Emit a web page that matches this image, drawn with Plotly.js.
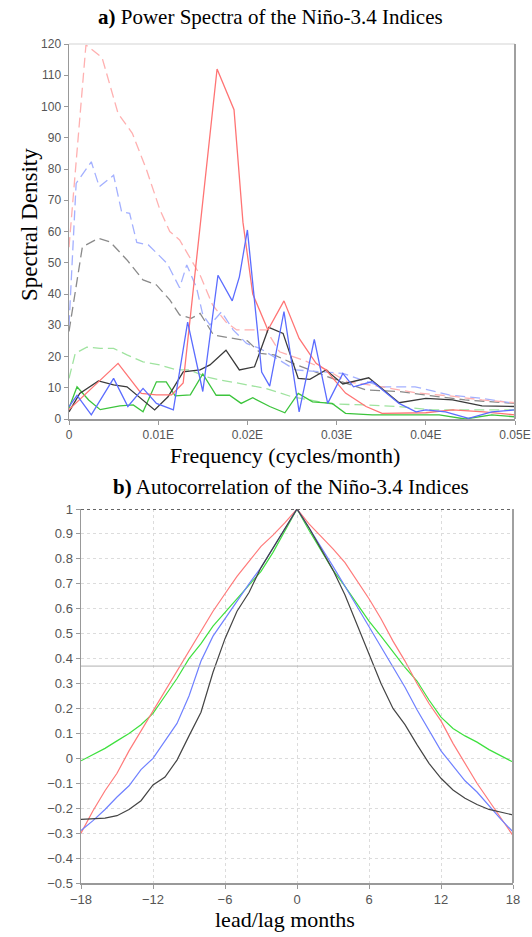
<!DOCTYPE html>
<html>
<head>
<meta charset="utf-8">
<script src="https://cdn.plot.ly/plotly-3.0.1.min.js"></script>
<style>html,body{margin:0;padding:0;background:#fff;}#chart{width:532px;height:937px;}</style>
</head>
<body>
<div id="chart"></div>
<script>
// ---------- Panel a: power spectra (frequency in cycles/month) ----------
const redF  = [0, 0.0055, 0.0081, 0.0098, 0.0115, 0.0128, 0.0166, 0.0185, 0.0195, 0.0206, 0.0223, 0.0241, 0.0258, 0.0277, 0.0288, 0.031, 0.0333, 0.0351, 0.04, 0.043, 0.0465, 0.05];
const redP  = [3, 17.8, 8.2, 7.7, 7.7, 11.5, 112, 99, 63, 40, 28.5, 37.8, 25.8, 17.8, 15.7, 8.3, 4, 1.8, 2, 2.9, 2.3, 1.3];

const blueF = [0, 0.0009, 0.0025, 0.005, 0.0066, 0.0083, 0.0098, 0.0117, 0.0133, 0.015, 0.0167, 0.0183, 0.0191, 0.02, 0.0216, 0.0225, 0.0241, 0.0258, 0.0275, 0.029, 0.0307, 0.0319, 0.034, 0.037, 0.0389, 0.04, 0.0422, 0.0448, 0.0474, 0.05];
const blueP = [4, 7.6, 1.3, 13, 4, 9.8, 5, 2.9, 31, 8.8, 46, 37.8, 45.5, 60.5, 15, 10.5, 34.4, 2.3, 25.5, 5, 14.6, 10.3, 12, 5, 2.3, 2.9, 2.3, 0.2, 2.3, 2.9];

const blackF = [0, 0.0012, 0.0033, 0.005, 0.0065, 0.008, 0.0096, 0.0111, 0.0128, 0.0147, 0.0158, 0.0176, 0.0191, 0.0208, 0.0224, 0.024, 0.0257, 0.027, 0.0288, 0.0307, 0.0336, 0.037, 0.04, 0.043, 0.0463, 0.05];
const blackP = [2.3, 8.2, 12.2, 10.9, 10.3, 6.6, 2.9, 7.1, 15.1, 15.7, 17.3, 22, 15.7, 16.7, 29.3, 27.4, 13, 12.7, 15.7, 11.2, 13.2, 5.2, 6.6, 6.1, 4.2, 4];

const greenF = [0, 0.0009, 0.0022, 0.0035, 0.0057, 0.0072, 0.0083, 0.0098, 0.0109, 0.0119, 0.0136, 0.015, 0.0165, 0.018, 0.0193, 0.0206, 0.0225, 0.0242, 0.0257, 0.0273, 0.0295, 0.031, 0.034, 0.038, 0.0415, 0.0444, 0.0474, 0.05];
const greenP = [3.5, 10.3, 6.1, 3, 4.2, 4.5, 2.3, 11.9, 11.9, 7.4, 7.7, 14.4, 7.6, 7.6, 5, 6.8, 4, 2, 8.2, 5.5, 5, 1.8, 1.3, 1.3, 1.3, 0, 1.3, 0.7];

const redNF = [0, 0.0019, 0.0037, 0.0055, 0.0071, 0.0087, 0.0102, 0.0113, 0.0124, 0.0137, 0.0147, 0.0161, 0.0176, 0.0188, 0.0221, 0.0236, 0.0262, 0.0289, 0.0312, 0.0351, 0.0388, 0.0426, 0.0463, 0.05];
const redNP = [55, 119.7, 115.7, 97.8, 91.4, 79.7, 66.9, 60, 57.3, 51, 46, 36.5, 31, 28.5, 28.5, 21.5, 18.9, 15.7, 11.9, 10.3, 8.4, 7.4, 6.1, 5.2];

const blueNF = [0, 0.0008, 0.0025, 0.0034, 0.005, 0.0059, 0.0068, 0.0076, 0.0089, 0.011, 0.0124, 0.0132, 0.0143, 0.015, 0.0158, 0.0171, 0.0184, 0.0199, 0.0214, 0.0235, 0.0254, 0.0307, 0.0351, 0.0388, 0.0426, 0.0463, 0.05];
const blueNP = [30, 75.4, 82.3, 74.3, 78, 66.3, 65.8, 56.5, 55.7, 49.8, 42, 49.3, 42, 33.3, 30.1, 34.3, 28.5, 24.2, 22.6, 18.9, 15.7, 14.6, 10.3, 10.3, 7.7, 6.6, 5];

const blackNF = [0, 0.0015, 0.0033, 0.0046, 0.0065, 0.0083, 0.0098, 0.0113, 0.0124, 0.0137, 0.0147, 0.0162, 0.0184, 0.02, 0.0215, 0.023, 0.0251, 0.0295, 0.0333, 0.037, 0.0407, 0.0444, 0.05];
const blackNP = [28, 55.1, 57.8, 56.7, 50.9, 44.5, 42.9, 38.1, 33.3, 32.2, 33.8, 26.9, 25.8, 25, 21, 20.5, 17.8, 13, 9.3, 8.8, 7.4, 6.1, 5];

const greenNF = [0, 0.0007, 0.002, 0.0035, 0.005, 0.0065, 0.0083, 0.0102, 0.0121, 0.0135, 0.0154, 0.0169, 0.0191, 0.022, 0.025, 0.0295, 0.0333, 0.037, 0.0407, 0.0444, 0.05];
const greenNP = [13, 21, 23, 22.6, 22.6, 20.5, 18.3, 17.3, 15.7, 15.7, 13.5, 12.5, 11.4, 9.8, 7.1, 4.8, 4.5, 4, 2.9, 2.9, 2.9];

const freqTicks = [0, 0.01, 0.02, 0.03, 0.04, 0.05];
const freqTickText = ["0", "0.01E", "0.02E", "0.03E", "0.04E", "0.05E"];
const densTicks = [0, 10, 20, 30, 40, 50, 60, 70, 80, 90, 100, 110, 120];

// ---------- Panel b: autocorrelation ----------
const lags = [-18,-17,-16,-15,-14,-13,-12,-11,-10,-9,-8,-7,-6,-5,-4,-3,-2,-1,0,1,2,3,4,5,6,7,8,9,10,11,12,13,14,15,16,17,18];
const acRed   = [-0.30,-0.21,-0.13,-0.06,0.03,0.11,0.19,0.27,0.35,0.43,0.51,0.59,0.66,0.73,0.79,0.85,0.895,0.945,1,0.94,0.89,0.84,0.785,0.715,0.64,0.56,0.47,0.39,0.30,0.22,0.15,0.06,-0.02,-0.10,-0.17,-0.24,-0.31];
const acGreen = [-0.01,0.015,0.04,0.07,0.10,0.135,0.18,0.25,0.32,0.40,0.46,0.53,0.585,0.64,0.695,0.75,0.826,0.913,1,0.915,0.835,0.755,0.69,0.62,0.55,0.49,0.425,0.365,0.31,0.234,0.165,0.12,0.09,0.065,0.035,0.01,-0.015];
const acBlue  = [-0.29,-0.25,-0.205,-0.155,-0.11,-0.045,0.0,0.07,0.14,0.25,0.39,0.49,0.56,0.635,0.70,0.765,0.845,0.92,1,0.925,0.85,0.77,0.69,0.61,0.525,0.45,0.37,0.285,0.195,0.11,0.03,-0.03,-0.09,-0.135,-0.19,-0.245,-0.295];
const acBlack = [-0.245,-0.243,-0.24,-0.23,-0.205,-0.17,-0.107,-0.075,-0.007,0.09,0.185,0.345,0.48,0.59,0.665,0.765,0.845,0.92,1,0.925,0.84,0.755,0.655,0.535,0.42,0.30,0.20,0.135,0.055,-0.02,-0.08,-0.127,-0.16,-0.185,-0.205,-0.217,-0.227];
const lagTicks = [-18, -12, -6, 0, 6, 12, 18];
const acTicks = [-0.5,-0.4,-0.3,-0.2,-0.1,0,0.1,0.2,0.3,0.4,0.5,0.6,0.7,0.8,0.9,1];
const efold = 0.37;

const W = 532, H = 937;
const px = v => v / W, py = v => 1 - v / H;

function ln(x, y, color, dash, xa, ya, w) {
  return {x: x, y: y, type: 'scatter', mode: 'lines', xaxis: xa, yaxis: ya,
          line: {color: color, width: w || 1.3, dash: dash || 'solid'}, hoverinfo: 'skip', showlegend: false};
}
const DASH = '10px,5px';
const traces = [
  ln(greenNF, greenNP, '#9fe39f', DASH, 'x', 'y'),
  ln(blackNF, blackNP, '#8a8a8a', DASH, 'x', 'y'),
  ln(blueNF, blueNP, '#a3b0ff', DASH, 'x', 'y'),
  ln(redNF, redNP, '#ffb0b0', DASH, 'x', 'y'),
  ln(greenF, greenP, '#3cc43c', null, 'x', 'y'),
  ln(blackF, blackP, '#3a3a3a', null, 'x', 'y'),
  ln(redF, redP, '#ff7474', null, 'x', 'y'),
  ln(blueF, blueP, '#5b6cff', null, 'x', 'y'),
  ln(lags, acGreen, '#3ee03e', null, 'x2', 'y2', 1.2),
  ln(lags, acRed, '#ff7a7a', null, 'x2', 'y2', 1.2),
  ln(lags, acBlue, '#6f80ff', null, 'x2', 'y2', 1.2),
  ln(lags, acBlack, '#444', null, 'x2', 'y2', 1.2)
];

const tickFont = {family: 'Liberation Sans, Arial, sans-serif', size: 12, color: '#555'};
const serif = 'Liberation Serif, Times New Roman, serif';

const layout = {
  width: W, height: H,
  margin: {l: 0, r: 0, t: 0, b: 0},
  paper_bgcolor: '#fff', plot_bgcolor: '#fff',
  showlegend: false,
  xaxis: {domain: [px(69), px(515)], anchor: 'y', range: [0, 0.05], tickvals: freqTicks, ticktext: freqTickText,
          showline: true, linecolor: '#999', linewidth: 1.5, ticks: 'outside', ticklen: 4, tickcolor: '#999',
          tickfont: tickFont, showgrid: false, zeroline: false, fixedrange: true},
  yaxis: {domain: [py(419), py(44)], anchor: 'x', range: [0, 120], tickvals: densTicks,
          showline: true, linecolor: '#999', linewidth: 1.5, ticks: 'outside', ticklen: 4, tickcolor: '#999',
          tickfont: tickFont, showgrid: false, zeroline: false, fixedrange: true},
  xaxis2: {domain: [px(81), px(513)], anchor: 'y2', range: [-18, 18], tickvals: lagTicks,
          showline: true, linecolor: '#999', linewidth: 1.5, ticks: 'outside', ticklen: 4, tickcolor: '#999',
          tickfont: {family: tickFont.family, size: 13, color: '#555'}, showgrid: true, gridcolor: '#dcdcdc', griddash: 'dot',
          zeroline: false, fixedrange: true},
  yaxis2: {domain: [py(883), py(509)], anchor: 'x2', range: [-0.5, 1], tickvals: acTicks,
          showline: true, linecolor: '#999', linewidth: 1.5, ticks: 'outside', ticklen: 4, tickcolor: '#999',
          tickfont: {family: tickFont.family, size: 13, color: '#555'}, showgrid: true, gridcolor: '#dcdcdc', griddash: 'dot',
          zeroline: false, fixedrange: true},
  shapes: [
    {type: 'line', xref: 'x domain', yref: 'y domain', x0: 0, x1: 1, y0: 1, y1: 1, line: {color: '#e2e2e2', width: 1.5}},
    {type: 'line', xref: 'x domain', yref: 'y domain', x0: 1, x1: 1, y0: 0, y1: 1, line: {color: '#a0a0a0', width: 2}},
    {type: 'line', xref: 'x2 domain', yref: 'y2 domain', x0: 1, x1: 1, y0: 0, y1: 1, line: {color: '#a0a0a0', width: 2}},
    {type: 'line', xref: 'x2 domain', yref: 'y2', x0: 0, x1: 1, y0: 1, y1: 1, line: {color: '#666', width: 2, dash: 'dot'}},
    {type: 'line', xref: 'x2 domain', yref: 'y2', x0: 0, x1: 1, y0: efold, y1: efold, line: {color: '#b0b0b0', width: 1}}
  ],
  annotations: [
    {text: '<b>a)</b> Power Spectra of the Niño-3.4 Indices', xref: 'paper', yref: 'paper', x: px(270), y: py(17),
     xanchor: 'center', yanchor: 'middle', showarrow: false, font: {family: serif, size: 21, color: '#000'}},
    {text: 'Spectral Density', xref: 'paper', yref: 'paper', x: px(30), y: py(225), textangle: -90,
     xanchor: 'center', yanchor: 'middle', showarrow: false, font: {family: serif, size: 23, color: '#000'}},
    {text: 'Frequency (cycles/month)', xref: 'paper', yref: 'paper', x: px(285), y: py(455),
     xanchor: 'center', yanchor: 'middle', showarrow: false, font: {family: serif, size: 22, color: '#000'}},
    {text: '<b>b)</b> Autocorrelation of the Niño-3.4 Indices', xref: 'paper', yref: 'paper', x: px(291), y: py(487),
     xanchor: 'center', yanchor: 'middle', showarrow: false, font: {family: serif, size: 21, color: '#000'}},
    {text: 'lead/lag months', xref: 'paper', yref: 'paper', x: px(285), y: py(919),
     xanchor: 'center', yanchor: 'middle', showarrow: false, font: {family: serif, size: 22, color: '#000'}}
  ]
};

Plotly.newPlot('chart', traces, layout, {staticPlot: true, displayModeBar: false});
</script>
</body>
</html>
